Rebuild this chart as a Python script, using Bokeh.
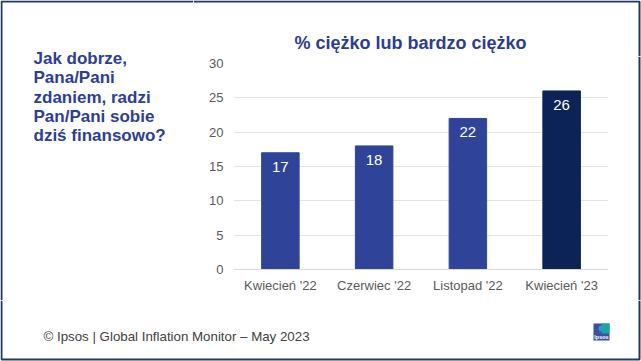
from bokeh.plotting import figure
from bokeh.layouts import column, row
from bokeh.models import ColumnDataSource, LabelSet, Label, Range1d, FixedTicker
from bokeh.core.properties import value
from bokeh.embed import file_html
from bokeh.resources import INLINE

categories = ["Kwiecień '22", "Czerwiec '22", "Listopad '22", "Kwiecień '23"]
values = [17, 18, 22, 26]
bar_colors = ["#2F4499", "#2F4499", "#2F4499", "#0B2357"]
y_ticks = [0, 5, 10, 15, 20, 25, 30]
title_text = "% ciężko lub bardzo ciężko"
question_lines = ["Jak dobrze,", "Pana/Pani", "zdaniem, radzi", "Pan/Pani sobie", "dziś finansowo?"]
footer_text = "© Ipsos | Global Inflation Monitor – May 2023"

BORDER = "#1F3A60"
FONT = "Liberation Sans"
TOP_H = 56   # height of the title strip
LEFT_W = 193  # width of the question strip


def panel(x0, x1, y0, y1):
    """Plain figure whose frame covers its whole canvas, in page pixel coordinates."""
    f = figure(width=x1 - x0, height=y1 - y0, x_range=Range1d(x0, x1), y_range=Range1d(y1, y0),
               x_axis_type=None, y_axis_type=None, output_backend="svg", toolbar_location=None,
               min_border=0, min_border_left=0, min_border_right=0, min_border_top=0,
               min_border_bottom=0)
    f.grid.visible = False
    f.outline_line_color = None
    f.background_fill_color = "white"
    f.border_fill_color = "white"
    return f


def border(f, xs, ys):
    f.line(xs, ys, line_color=BORDER, line_width=2)


# ---- left strip with the question (full height down to the footer)
left = panel(0, LEFT_W, 0, 300)
border(left, [1, 1, LEFT_W], [300, 1, 1])
baselines = [58, 77, 97, 116, 135]
for line, b in zip(question_lines, baselines):
    left.add_layout(Label(x=33, y=b, text=line, text_font=FONT, text_font_style="bold",
                          text_font_size="17px", text_color="#2C3E96",
                          text_align="left", text_baseline="alphabetic"))

# ---- top strip with the title
top = panel(LEFT_W, 641, 0, TOP_H)
border(top, [LEFT_W, 639, 639], [1, 1, TOP_H])
top.add_layout(Label(x=410, y=42, text=title_text, text_font=FONT, text_font_style="bold",
                     text_font_size="18px", text_color="#2B3C93",
                     text_align="center", text_baseline="middle"))

# ---- right strip
right = panel(608, 641, TOP_H, 300)
border(right, [639, 639], [TOP_H, 300])

# ---- main chart (frame spans page x 233..608, y 63..269)
p = figure(x_range=categories, y_range=Range1d(0, 30), width=608 - LEFT_W, height=300 - TOP_H,
           output_backend="svg", toolbar_location=None,
           min_border_left=233 - LEFT_W, min_border_right=0, min_border_top=63 - TOP_H,
           min_border_bottom=31)
p.outline_line_color = None
p.background_fill_color = "white"
p.border_fill_color = "white"

src = ColumnDataSource(dict(cat=categories, val=values, color=bar_colors,
                            lab=[str(v) for v in values]))
p.vbar(x="cat", top="val", width=0.4, color="color", source=src)
p.add_layout(LabelSet(x="cat", y="val", text="lab", source=src, text_color="white",
                      text_font=value(FONT), text_font_size="15px",
                      text_align="center", text_baseline="top", y_offset=-9))

p.yaxis.ticker = FixedTicker(ticks=y_ticks)
p.yaxis.axis_line_color = None
p.yaxis.major_tick_line_color = None
p.yaxis.major_tick_out = 0
p.yaxis.major_tick_in = 0
p.yaxis.minor_tick_line_color = None
p.yaxis.major_label_standoff = 10
p.yaxis.major_label_text_font = FONT
p.yaxis.major_label_text_font_size = "13px"
p.yaxis.major_label_text_color = "#595959"

p.xaxis.axis_line_color = "#D9D9D9"
p.xaxis.major_tick_line_color = None
p.xaxis.major_tick_out = 0
p.xaxis.major_tick_in = 0
p.xaxis.major_label_standoff = 8
p.xaxis.major_label_text_font = FONT
p.xaxis.major_label_text_font_size = "13px"
p.xaxis.major_label_text_color = "#595959"

p.xgrid.grid_line_color = None
p.ygrid.grid_line_color = "#E3E3E3"
p.x_range.range_padding = 0.0

# ---- footer strip
foot = panel(0, 641, 300, 361)
border(foot, [1, 1, 639, 639], [300, 359, 359, 300])
foot.add_layout(Label(x=43, y=336, text=footer_text, text_font=FONT, text_font_size="13.3px",
                      text_color="#404040", text_align="left", text_baseline="middle"))
# Ipsos logo badge
foot.quad(left=[593], right=[609], top=[323], bottom=[340], fill_color="#3B4FA3", line_color=None)
foot.quad(left=[601], right=[609], top=[323], bottom=[333], fill_color="#19A7A0", line_color=None)
foot.ellipse(x=[600], y=[328], width=4, height=6, fill_color="#2A9CC0", line_color=None)
foot.add_layout(Label(x=601, y=336.5, text="Ipsos", text_font=FONT, text_font_size="5.5px",
                      text_font_style="bold", text_color="white",
                      text_align="center", text_baseline="middle"))

layout = column(
    row(column(left), column(top, row(p, column(right)))),
    foot,
)
html = file_html(layout, INLINE)
open("out.html", "w").write(html)
